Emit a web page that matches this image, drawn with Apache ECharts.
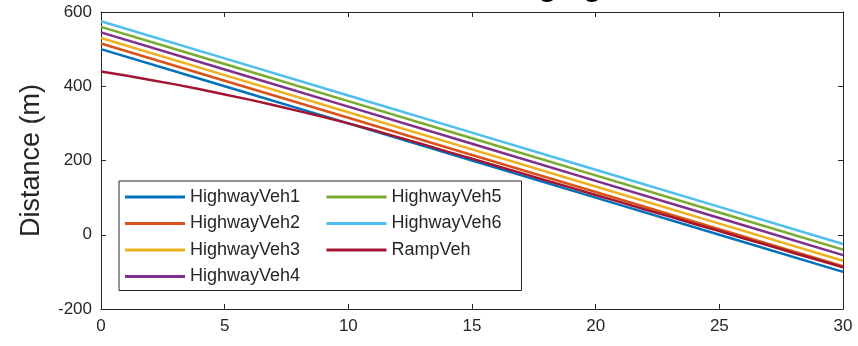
<!DOCTYPE html>
<html>
<head>
<meta charset="utf-8">
<script src="https://cdn.jsdelivr.net/npm/echarts@6/dist/echarts.min.js"></script>
<style>
  html, body { margin: 0; padding: 0; background: #fff; }
  #chart { width: 858px; height: 346px; }
</style>
</head>
<body>
<div id="chart"></div>
<script>
// Time samples (s)
const highwayTime = [0, 5, 10, 15, 20, 25, 30];
const rampTime = [0, 1, 2, 3, 4, 5, 6, 7, 8, 9, 10, 11, 12, 13, 14, 15,
                  16, 17, 18, 19, 20, 21, 22, 23, 24, 25, 26, 27, 28, 29, 30];

// Distance to the merge point (m)
const highwayVeh1 = [500, 400, 300, 200, 100, 0, -100];
const highwayVeh2 = [515, 415, 315, 215, 115, 15, -85];
const highwayVeh3 = [530, 430, 330, 230, 130, 30, -70];
const highwayVeh4 = [545, 445, 345, 245, 145, 45, -55];
const highwayVeh5 = [560, 460, 360, 260, 160, 60, -40];
const highwayVeh6 = [575, 475, 375, 275, 175, 75, -25];
const rampVeh = [440, 429, 417, 405, 392, 378, 364, 349, 333, 317, 300,
                 282, 263, 244, 224, 205, 185, 166, 146, 127, 107,
                 88, 68, 49, 29, 10, -10, -29, -49, -68, -88];

const seriesNames = ['HighwayVeh1', 'HighwayVeh2', 'HighwayVeh3', 'HighwayVeh4',
                     'HighwayVeh5', 'HighwayVeh6', 'RampVeh'];
const seriesColors = ['#0072BD', '#D95319', '#EDB120', '#7E2F8E',
                      '#77AC30', '#4DBEEE', '#A2142F'];

const xTicks = { min: 0, max: 30, interval: 5 };
const yTicks = { min: -200, max: 600, interval: 200 };

const titleText = 'Distance to Merging';
const yLabel = 'Distance (m)';

const axisColor = '#262626';
const fontFamily = '"Liberation Sans", Arial, Helvetica, sans-serif';

function pairs(t, v) { return t.map((x, i) => [x, v[i]]); }

const seriesData = [
  pairs(highwayTime, highwayVeh1),
  pairs(highwayTime, highwayVeh2),
  pairs(highwayTime, highwayVeh3),
  pairs(highwayTime, highwayVeh4),
  pairs(highwayTime, highwayVeh5),
  pairs(highwayTime, highwayVeh6),
  pairs(rampTime, rampVeh)
];

const chart = echarts.init(document.getElementById('chart'), null, { renderer: 'canvas' });

const baseX = {
  type: 'value', min: xTicks.min, max: xTicks.max, interval: xTicks.interval,
  axisLine: { show: true, onZero: false, lineStyle: { color: axisColor, width: 1 } },
  axisTick: { show: true, inside: true, length: 5, lineStyle: { color: axisColor } },
  splitLine: { show: false }
};
const baseY = {
  type: 'value', min: yTicks.min, max: yTicks.max, interval: yTicks.interval,
  axisLine: { show: true, onZero: false, lineStyle: { color: axisColor, width: 1 } },
  axisTick: { show: true, inside: true, length: 5, lineStyle: { color: axisColor } },
  splitLine: { show: false }
};

chart.setOption({
  animation: false,
  backgroundColor: '#ffffff',
  textStyle: { fontFamily: fontFamily },
  title: {
    text: titleText,
    left: 315,
    top: -27,
    padding: 0,
    textAlign: 'left',
    textStyle: { fontFamily: fontFamily, fontSize: 30, fontWeight: 'bold', color: '#000000' }
  },
  grid: { left: 101, right: 15, top: 12, bottom: 37, containLabel: false },
  xAxis: [
    Object.assign({}, baseX, {
      position: 'bottom',
      axisLabel: { color: axisColor, fontSize: 17, margin: 9, fontFamily: fontFamily }
    }),
    Object.assign({}, baseX, { position: 'top', axisLabel: { show: false } })
  ],
  yAxis: [
    Object.assign({}, baseY, {
      position: 'left',
      name: yLabel,
      nameLocation: 'middle',
      nameGap: 56,
      nameTextStyle: { color: axisColor, fontSize: 27, fontFamily: fontFamily },
      axisLabel: { color: axisColor, fontSize: 17, margin: 9, fontFamily: fontFamily }
    }),
    Object.assign({}, baseY, { position: 'right', axisLabel: { show: false } })
  ],
  legend: {
    orient: 'vertical',
    left: 119,
    top: 181,
    height: 104,
    padding: [6, 0, 4, 6],
    itemGap: 6.5,
    itemWidth: 60,
    itemHeight: 3,
    icon: 'rect',
    backgroundColor: '#ffffff',
    borderColor: axisColor,
    borderWidth: 1,
    borderRadius: 0,
    data: seriesNames,
    textStyle: {
      color: axisColor, fontSize: 18, fontFamily: fontFamily,
      width: 130, lineHeight: 20, padding: 0
    }
  },
  series: seriesNames.map((name, i) => ({
    name: name,
    type: 'line',
    data: seriesData[i],
    xAxisIndex: 0,
    yAxisIndex: 0,
    symbol: 'none',
    smooth: false,
    color: seriesColors[i],
    lineStyle: { color: seriesColors[i], width: 2.5 },
    z: 2 + i
  }))
});
</script>
</body>
</html>
